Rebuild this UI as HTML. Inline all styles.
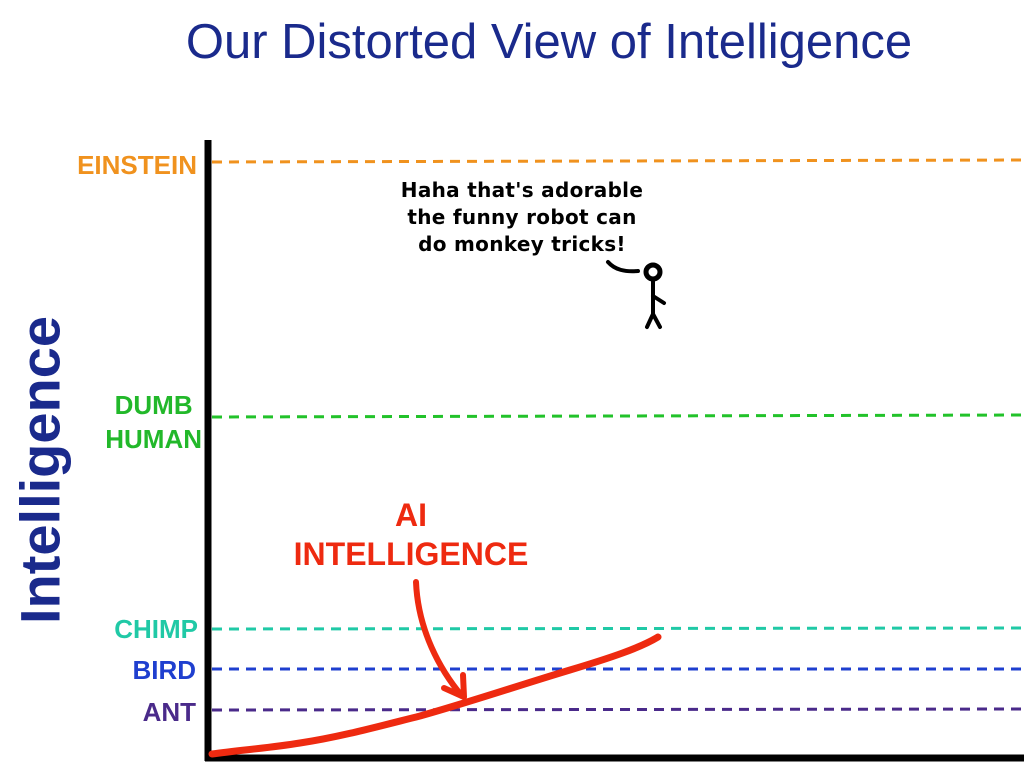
<!DOCTYPE html>
<html><head><meta charset="utf-8"><style>
body{margin:0;width:1024px;height:768px;background:#fff;overflow:hidden;position:relative;font-family:"Liberation Sans",sans-serif}
.t{position:absolute;font-weight:bold;font-size:26px;text-align:right;line-height:26px}
</style></head><body>
<div style="position:absolute;left:0;width:1098px;top:14px;text-align:center;font-size:49px;color:#1a2a8c">Our Distorted View of Intelligence</div>
<div style="position:absolute;left:40px;top:470px;transform:translate(-50%,-50%) rotate(-90deg);font-size:56px;font-weight:bold;color:#1a2a8c;white-space:nowrap">Intelligence</div>
<div class="t" style="right:827px;top:152px;color:#f0921e">EINSTEIN</div>
<div class="t" style="right:822px;top:388px;color:#22b82a;text-align:center;line-height:34px">DUMB<br>HUMAN</div>
<div class="t" style="right:826px;top:616px;color:#20c9a6">CHIMP</div>
<div class="t" style="right:828px;top:657px;color:#1f3fcf">BIRD</div>
<div class="t" style="right:828px;top:699px;color:#4a2a8a">ANT</div>
<div style="position:absolute;left:271px;width:280px;top:496px;text-align:center;font-size:32px;font-weight:bold;color:#ee2a10;line-height:39px">AI<br>INTELLIGENCE</div>
<div style="position:absolute;left:382px;width:280px;top:177px;text-align:center;font-size:20px;font-weight:bold;line-height:27px;font-family:'DejaVu Sans',sans-serif;letter-spacing:0.3px">Haha that's adorable<br>the funny robot can<br>do monkey tricks!</div>
<svg width="1024" height="768" style="position:absolute;left:0;top:0">
<g stroke-width="3" stroke-dasharray="10,7" fill="none">
<line x1="212" y1="162" x2="1024" y2="160" stroke="#f0921e"/>
<line x1="212" y1="417" x2="1024" y2="415" stroke="#22c22a"/>
<line x1="212" y1="629" x2="1024" y2="628" stroke="#20c9a6"/>
<line x1="212" y1="669" x2="1024" y2="669" stroke="#1f3fcf"/>
<line x1="212" y1="710" x2="1024" y2="709" stroke="#4a2a8a"/>
</g>
<line x1="208" y1="140" x2="208" y2="761" stroke="#000" stroke-width="7"/>
<line x1="205" y1="758" x2="1024" y2="758" stroke="#000" stroke-width="7"/>
<path d="M212 754 C240 750 270 748 300 743 C340 737 380 726 420 716 C470 702 520 685 570 670 C610 658 640 648 658 637" stroke="#ee2a10" stroke-width="7" fill="none" stroke-linecap="round"/>
<path d="M416 582 C418 630 440 670 462 696" stroke="#ee2a10" stroke-width="6" fill="none" stroke-linecap="round"/>
<path d="M444 688 L464 697 L463 675" stroke="#ee2a10" stroke-width="6" fill="none" stroke-linecap="round" stroke-linejoin="round"/>
<path d="M608 262 C615 270 625 272 638 271" stroke="#000" stroke-width="4" fill="none" stroke-linecap="round"/>
<circle cx="653" cy="272" r="7" stroke="#000" stroke-width="5" fill="none"/>
<path d="M653 279 L653 314 M653 296 L664 303 M653 314 L647 327 M653 314 L660 327" stroke="#000" stroke-width="4" fill="none" stroke-linecap="round"/>
</svg>
</body></html>
